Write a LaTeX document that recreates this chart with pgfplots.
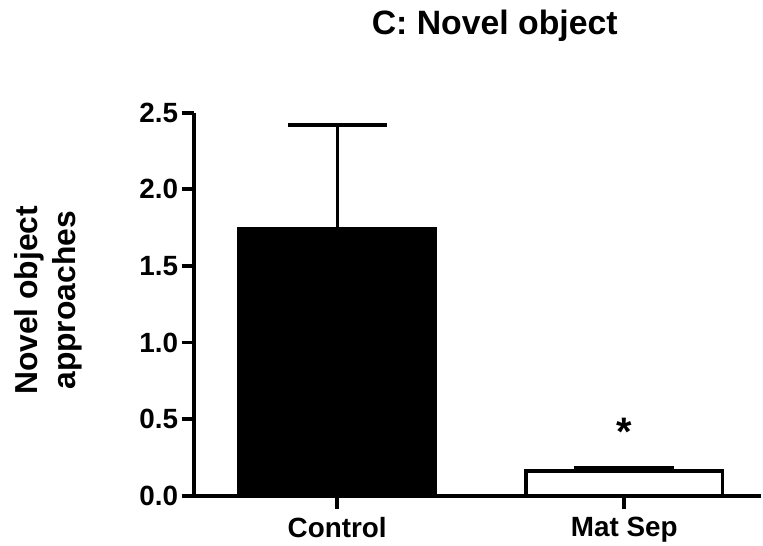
\documentclass[border=0pt]{standalone}
\usepackage{pgfplots}
\pgfplotsset{compat=1.18}
\usepackage{fontspec}
\setmainfont{Liberation Sans}

\begin{document}
\begin{tikzpicture}
\begin{axis}[
    scale only axis,
    width=568bp, height=384bp,
    xmin=-0.497, xmax=1.476,
    ymin=0, ymax=2.5,
    axis lines*=left,
    axis line style={line width=4bp, -},
    tick align=outside,
    major tick length=13bp,
    tick style={line width=4bp, black},
    xtick={0,1},
    xticklabels={Control, Mat Sep},
    ytick={0,0.5,1.0,1.5,2.0,2.5},
    /pgf/number format/assume math mode=true,
    yticklabel style={/pgf/number format/.cd, fixed, fixed zerofill, precision=1},
    ticklabel style={font=\fontsize{28}{30}\selectfont\bfseries},
    xticklabel style={yshift=-5bp},
    title={C: Novel object},
    title style={font=\fontsize{34}{36}\selectfont\bfseries,
        at={(rel axis cs:0.53,1)}, anchor=base, yshift=72bp},
    ylabel={Novel object\\approaches},
    ylabel style={font=\fontsize{32}{38}\selectfont\bfseries, align=center,
        at={(rel axis cs:-0.258,0.51)}, anchor=center},
    clip=false,
]
% Control
\addplot[ybar, bar width=0.684, bar shift=0pt, fill=black, draw=black, line width=3.5bp,
    error bars/.cd, y dir=plus, y explicit, error mark=|,
    error bar style={line width=3bp, black},
    error mark options={line width=3.5bp, mark size=49.5bp, black}]
    coordinates {(0,1.74) +- (0,0.68)};
% Mat Sep
\addplot[ybar, bar width=0.684, bar shift=0pt, fill=white, draw=black, line width=3.5bp,
    error bars/.cd, y dir=plus, y explicit, error mark=|,
    error bar style={line width=3bp, black},
    error mark options={line width=3.5bp, mark size=50bp, black}]
    coordinates {(1,0.16) +- (0,0.02)};
\node[font=\fontsize{40}{40}\selectfont\bfseries] at (axis cs:1,0.42) {*};
% page margins as in the reference
\path (rel axis cs:0,0) ++(-195bp,-47bp);
\path (rel axis cs:0,1) ++(0,113bp);
\end{axis}
\end{tikzpicture}
\end{document}
